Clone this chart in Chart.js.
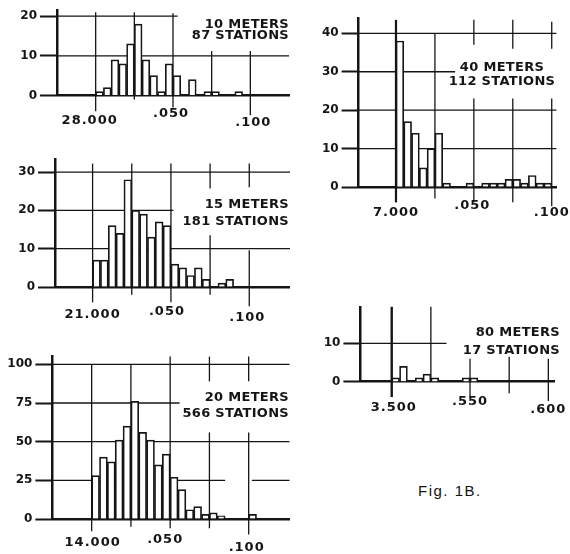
<!DOCTYPE html>
<html lang="en">
<head>
<meta charset="UTF-8">
<title>Fig. 1B - stations per 5 kHz</title>
<script src="https://cdn.jsdelivr.net/npm/chart.js"></script>
<style>
    body {
        margin: 0;
        background: #fff;
    }
    #page {
        position: relative;
        width: 570px;
        height: 554px;
        overflow: hidden;
    }
    #page canvas {
        position: absolute;
    }
    #caption {
        position: absolute;
        left: 418px;
        top: 482px;
        font: 15px "Liberation Sans", Arial, sans-serif;
        letter-spacing: 1.5px;
        color: #151515;
    }
</style>
</head>
<body>

<div id="page">
    <canvas id="c10" width="290" height="135" style="left:0;top:0"></canvas>
    <canvas id="c15" width="290" height="185" style="left:0;top:140px"></canvas>
    <canvas id="c20" width="290" height="209" style="left:0;top:345px"></canvas>
    <canvas id="c40" width="280" height="225" style="left:290px;top:0"></canvas>
    <canvas id="c80" width="280" height="130" style="left:290px;top:295px"></canvas>
    <div id="caption">Fig. 1B.</div>
</div>

<script>
// stations counted in each 5 kHz slot, from the bottom edge of the band upward
const counts10 = [1, 2, 9, 8, 13, 18, 9, 5, 1, 8, 5, 0, 4, 0, 1, 1, 0, 0, 1];
const counts15 = [7, 7, 16, 14, 28, 20, 19, 13, 17, 16, 6, 5, 3, 5, 2, 0, 1, 2];
const counts20 = [28, 40, 37, 51, 60, 76, 56, 51, 35, 42, 27, 19, 6, 8, 3, 4, 2, 0, 0, 0, 3];
const counts40 = [38, 17, 14, 5, 10, 14, 1, 0, 0, 1, 0, 1, 1, 1, 2, 2, 1, 3, 1, 1];
const counts80 = [1, 4, 0, 1, 2, 1, 0, 0, 0, 1, 1];

const binWidth = 5;                 // kHz per slot
const xTickValues = [0, 50, 100];   // kHz above the band edge

const xLabels10 = ['28.000', '.050', '.100'];
const xLabels15 = ['21.000', '.050', '.100'];
const xLabels20 = ['14.000', '.050', '.100'];
const xLabels40 = ['7.000', '.050', '.100'];
const xLabels80 = ['3.500', '.550', '.600'];

const title10 = ['10 METERS', '87 STATIONS'];
const title15 = ['15 METERS', '181 STATIONS'];
const title20 = ['20 METERS', '566 STATIONS'];
const title40 = ['40 METERS', '112 STATIONS'];
const title80 = ['80 METERS', '17 STATIONS'];

const ink = '#151515';

// box: y-axis width, x-axis height, top/right padding (px)
// grid: graph paper lines in data units, h = [y, x0, x1], v = [x, y0, y1, width?]
const panels = [
    {
        canvas: 'c10', counts: counts10, labels: xLabels10, title: title10, yStep: 10,
        x: [-25, 125], y: [0, 21.5],
        box: { axisW: 57, axisH: 39.5, top: 10, right: 1 },
        titleAt: { x: 289, y: [25, 36], align: 'right' },
        nudge: [[-6, 25], [-2, 18], [3, 27]],
        grid: {
            h: [[10, -25, 125], [20, -25, 53]],
            v: [[0, -4, 21], [25, -1, 21], [50, -3, 20.7], [75, 0, 11.2], [100, -5, 11.2]]
        }
    },
    {
        canvas: 'c15', counts: counts15, labels: xLabels15, title: title15, yStep: 10,
        x: [-24, 126], y: [0, 33.3],
        box: { axisW: 55, axisH: 38, top: 19.4, right: 0 },
        titleAt: { x: 289, y: [64.5, 81.7], align: 'right' },
        nudge: [[0, 28], [-4, 25], [-2, 31]],
        grid: {
            h: [[30, -24, 126], [20, -24, 51.6], [10, -24, 126]],
            v: [[0, -4, 32.2], [25, -2, 32.2], [50, -4, 32.2], [75, 25.7, 32.2], [75, -2, 13.5],
                [100, 26, 32.2], [100, -5, 9.6]]
        }
    },
    {
        canvas: 'c20', counts: counts20, labels: xLabels20, title: title20, yStep: 25,
        x: [-25, 126], y: [0, 105],
        box: { axisW: 52.4, axisH: 35, top: 11.6, right: 0.5 },
        titleAt: { x: 289, y: [53, 69], align: 'right' },
        nudge: [[1, 24], [-5, 21], [-2, 29]],
        grid: {
            h: [[100, -25, 126], [75, -25, 56], [50, -25, 126], [25, -25, 85], [25, 102, 126]],
            v: [[0, -8, 100], [25, -5, 100], [50, -6, 105], [75, 89, 105], [75, -6, 56],
                [100, 89, 105], [100, -10, 56]]
        }
    },
    {
        canvas: 'c40', counts: counts40, labels: xLabels40, title: title40, yStep: 10,
        x: [-24, 103], y: [0, 43.8],
        box: { axisW: 68.6, axisH: 38, top: 18.7, right: 13.6 },
        titleAt: { x: 212, y: [67.5, 82], align: 'center' },
        nudge: [[0, 26], [-1.5, 19], [0, 26]],
        grid: {
            h: [[40, -24, 103], [30, -24, 38], [20, -24, 103], [10, -24, 103]],
            v: [[0, -4, 43.5, 2.2], [25, -3, 40], [50, 37, 43.5], [50, -4, 23], [75, 36, 43.5],
                [75, -4, 23], [100, 36, 43], [100, -5, 23]]
        }
    },
    {
        canvas: 'c80', counts: counts80, labels: xLabels80, title: title80, yStep: 10,
        x: [-20, 104], y: [0, 19.5],
        box: { axisW: 70.4, axisH: 43.3, top: 11.8, right: 15.4 },
        titleAt: { x: 270, y: [38, 55.5], align: 'right' },
        nudge: [[2, 26], [0, 20], [0, 28]],
        grid: {
            h: [[10, -20, 35]],
            v: [[0, -4, 19.5, 2.4], [25, 0, 19.5], [50, -4, 6], [75, -3, 6.5], [100, -5, 6]]
        }
    }
];

// ruled lines of the graph paper, under the bars
const paperGrid = {
    id: 'paperGrid',
    beforeDatasetsDraw(chart, args, opts) {
        const { ctx, scales: { x, y } } = chart;
        ctx.save();
        ctx.strokeStyle = ink;
        ctx.lineCap = 'butt';
        opts.h.forEach(([v, x0, x1]) => {
            ctx.lineWidth = 1.3;
            ctx.beginPath();
            ctx.moveTo(x.getPixelForValue(x0), y.getPixelForValue(v));
            ctx.lineTo(x.getPixelForValue(x1), y.getPixelForValue(v));
            ctx.stroke();
        });
        opts.v.forEach(([v, y0, y1, w]) => {
            ctx.lineWidth = w || 1.3;
            ctx.beginPath();
            ctx.moveTo(x.getPixelForValue(v), y.getPixelForValue(y0));
            ctx.lineTo(x.getPixelForValue(v), y.getPixelForValue(y1));
            ctx.stroke();
        });
        ctx.restore();
    }
};

// frequency labels under the axis and the band / station count lettering
const lettering = {
    id: 'lettering',
    afterDraw(chart, args, opts) {
        const { ctx, scales: { x, y } } = chart;
        ctx.save();
        ctx.fillStyle = ink;
        ctx.textBaseline = 'middle';
        ctx.textAlign = 'center';
        ctx.font = 'bold 13px "DejaVu Sans"';
        ctx.letterSpacing = '1px';
        const base = y.getPixelForValue(0);
        xTickValues.forEach((v, i) => {
            const [dx, dy] = opts.nudge[i];
            ctx.fillText(opts.labels[i], x.getPixelForValue(v) + dx, base + dy);
        });
        ctx.letterSpacing = '0.3px';
        ctx.textAlign = opts.titleAt.align;
        opts.title.forEach((line, i) => {
            ctx.fillText(line, opts.titleAt.x, opts.titleAt.y[i]);
        });
        ctx.restore();
    }
};

function drawHistogram(p) {
    const bars = p.counts.map((n, i) => ({ x: i * binWidth + binWidth / 2, y: n }));

    return new Chart(document.getElementById(p.canvas), {
        type: 'bar',
        data: {
            datasets: [{
                data: bars,
                backgroundColor: '#fff',
                borderColor: ink,
                borderWidth: 1.7,
                barPercentage: 1,
                categoryPercentage: 1
            }]
        },
        options: {
            responsive: false,
            animation: false,
            events: [],
            layout: {
                padding: { top: p.box.top, right: p.box.right, left: 0, bottom: 0 }
            },
            plugins: {
                legend: { display: false },
                tooltip: { enabled: false },
                paperGrid: p.grid,
                lettering: { labels: p.labels, nudge: p.nudge, title: p.title, titleAt: p.titleAt }
            },
            scales: {
                x: {
                    type: 'linear',
                    offset: false,
                    min: p.x[0],
                    max: p.x[1],
                    grid: { display: false },
                    border: { color: ink, width: 2.5 },
                    ticks: { display: false, stepSize: 25 },
                    afterFit: scale => { scale.height = p.box.axisH; }
                },
                y: {
                    min: p.y[0],
                    max: p.y[1],
                    grid: {
                        drawOnChartArea: false,
                        tickLength: 17,
                        tickColor: ink,
                        tickWidth: 2
                    },
                    border: { color: ink, width: 2.5 },
                    ticks: {
                        stepSize: p.yStep,
                        includeBounds: false,
                        padding: 3,
                        color: ink,
                        font: { family: 'DejaVu Sans', weight: 'bold', size: 12 }
                    },
                    afterFit: scale => { scale.width = p.box.axisW; }
                }
            }
        },
        plugins: [paperGrid, lettering]
    });
}

panels.forEach(drawHistogram);
</script>

</body>
</html>
